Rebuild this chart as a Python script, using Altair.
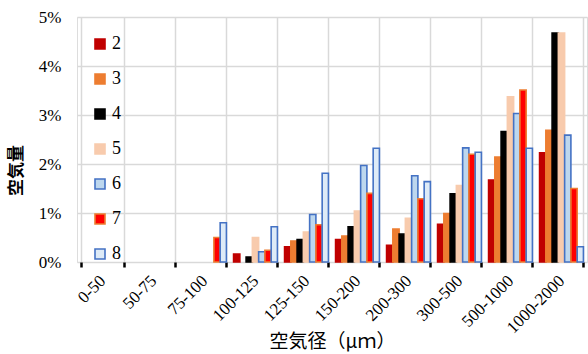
import altair as alt
import pandas as pd

# Air-void size classes (μm)
categories = ["0-50", "50-75", "75-100", "100-125", "125-150",
              "150-200", "200-300", "300-500", "500-1000", "1000-2000"]

# Air content (%) per series, one value per size class
series_names = ["2", "3", "4", "5", "6", "7", "8"]
s2 = [0, 0, 0, 0.16, 0.31, 0.46, 0.34, 0.77, 1.67, 2.23]
s3 = [0, 0, 0, 0.00, 0.43, 0.53, 0.67, 0.99, 2.14, 2.69]
s4 = [0, 0, 0, 0.10, 0.46, 0.72, 0.57, 1.39, 2.66, 4.67]
s5 = [0, 0, 0, 0.50, 0.61, 1.04, 0.89, 1.56, 3.37, 4.67]
s6 = [0, 0, 0, 0.21, 0.97, 1.97, 1.76, 2.33, 3.03, 2.59]
s7 = [0, 0, 0.50, 0.24, 0.76, 1.40, 1.29, 2.20, 3.51, 1.50]
s8 = [0, 0, 0.80, 0.72, 1.81, 2.32, 1.64, 2.24, 2.32, 0.31]

fill_colors = ["#C00000", "#ED7D31", "#000000", "#F8CBAD", "#BDD7EE", "#FF0000", "#DEEBF7"]
stroke_colors = ["#C00000", "#ED7D31", "#000000", "#F8CBAD", "#4472C4", "#ED7D31", "#4472C4"]

rows = []
for name, vals in zip(series_names, [s2, s3, s4, s5, s6, s7, s8]):
    for cat, v in zip(categories, vals):
        if v > 0:
            rows.append({"size": cat, "series": name, "value": v})
df = pd.DataFrame(rows)

serif = "Liberation Serif, Times New Roman, DejaVu Serif, serif"
cjk = "Noto Sans CJK JP, sans-serif"

legend_opts = dict(
    title=None,
    orient="none",
    legendX=14,
    legendY=18,
    symbolType="square",
    symbolSize=100,
    symbolStrokeWidth=1.6,
    labelFont=serif,
    labelFontSize=18,
    labelColor="#000000",
    labelOffset=3,
    rowPadding=17,
    padding=0,
)

chart = alt.Chart(df).mark_bar(strokeWidth=1.6).encode(
    x=alt.X(
        "size:N",
        sort=categories,
        scale=alt.Scale(domain=categories, paddingInner=0.14, paddingOuter=0.07),
        axis=alt.Axis(
            title="空気径（μｍ）",
            titleFont=cjk,
            titleFontSize=19,
            titleFontWeight="normal",
            titleColor="#000000",
            titleY=79,
            titleBaseline="middle",
            labelFont=serif,
            labelFontSize=17,
            labelColor="#000000",
            labelAngle=-45,
            labelAlign="right",
            labelBaseline="middle",
            labelPadding=11,
            tickBand="extent",
            ticks=True,
            tickColor="#000000",
            tickWidth=2.5,
            tickSize=5,
            grid=True,
            gridColor="#D9D9D9",
            gridWidth=1.5,
            domain=False,
        ),
    ),
    xOffset=alt.XOffset("series:N", sort=series_names,
                        scale=alt.Scale(domain=series_names)),
    y=alt.Y(
        "value:Q",
        scale=alt.Scale(domain=[0, 5], nice=False),
        axis=alt.Axis(
            title="空気量",
            titleFont=cjk,
            titleFontSize=17,
            titleFontWeight="bold",
            titleColor="#000000",
            titleX=-61,
            titleY=153,
            titleAlign="center",
            titleBaseline="middle",
            values=[0, 1, 2, 3, 4, 5],
            labelExpr="datum.value + '%'",
            labelFont=serif,
            labelFontSize=17,
            labelColor="#000000",
            labelPadding=16,
            ticks=False,
            grid=True,
            gridColor="#D9D9D9",
            gridWidth=1.5,
            domain=False,
        ),
    ),
    fill=alt.Fill(
        "series:N",
        scale=alt.Scale(domain=series_names, range=fill_colors),
        legend=alt.Legend(**legend_opts),
    ),
    stroke=alt.Stroke(
        "series:N",
        scale=alt.Scale(domain=series_names, range=stroke_colors),
        legend=alt.Legend(**legend_opts),
    ),
).properties(
    width=510,
    height=245,
    autosize=alt.AutoSizeParams(type="none"),
    padding={"left": 77, "top": 17, "right": 1, "bottom": 92},
).configure_view(
    stroke="#000000",
    strokeWidth=3,
).configure(background="#FFFFFF", font=serif)

chart.save("out.html", embed_options={"renderer": "svg", "actions": False})
